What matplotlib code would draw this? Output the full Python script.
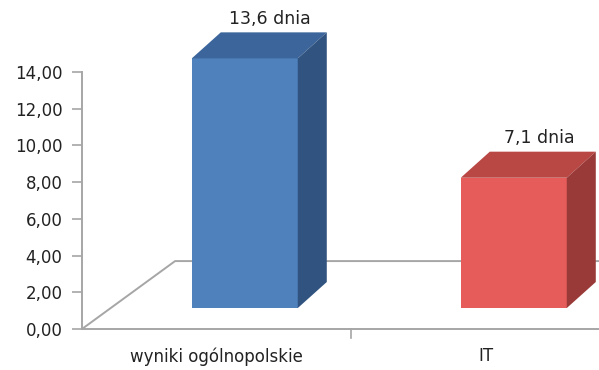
import matplotlib
matplotlib.use("Agg")
import matplotlib.pyplot as plt
from matplotlib.patches import Polygon
from matplotlib.ticker import FuncFormatter

# ===== dane =====
categories = ["wyniki ogólnopolskie", "IT"]
values = [13.6, 7.1]
value_labels = ["13,6 dnia", "7,1 dnia"]
front_colors = ["#4F81BD", "#E65C5A"]
top_colors = ["#3C669B", "#B94744"]
side_colors = ["#30537F", "#9A3A38"]

plt.rcParams["font.family"] = ["DejaVu Sans"]
plt.rcParams["font.size"] = 12

W, H = 599, 370
fig = plt.figure(figsize=(W / 100, H / 100), dpi=100)

# plot area: y axis at x=82px, baseline at y=329px, 14 at y=72px
ax = fig.add_axes([82 / W, 41 / H, (W - 82) / W, 329 / H])
unit_px = 257 / 14
ax.set_ylim(0, 329 / unit_px)
ax.set_xlim(-0.5, -0.5 + (W - 82) / 269)

grid_c = "#A6A6A6"
txt_c = "#222222"

# 3D look parameters (in data units)
shift = 0.105      # bar front shifted right
bar_w = 0.394
lift = 1.14        # front face bottom lifted
dx, dy = 0.108, 1.42
floor_dx, floor_dy = 0.346, 3.7

# floor
ax.plot([-0.5, -0.5 + floor_dx, 2], [0, floor_dy, floor_dy], color=grid_c, lw=1.4, zorder=1)

for i, v in enumerate(values):
    x0 = i + shift - bar_w / 2
    x1 = x0 + bar_w
    b = lift
    t = lift + v
    ax.bar(i + shift, v, width=bar_w, bottom=b, color=front_colors[i], zorder=3, linewidth=0)
    ax.add_patch(Polygon([(x0, t), (x1, t), (x1 + dx, t + dy), (x0 + dx, t + dy)],
                         closed=True, color=top_colors[i], lw=0, zorder=3))
    ax.add_patch(Polygon([(x1, b), (x1 + dx, b + dy), (x1 + dx, t + dy), (x1, t)],
                         closed=True, color=side_colors[i], lw=0, zorder=3))
    ax.text(i + shift + 0.095, t + dy + 0.75, value_labels[i], ha="center", va="center",
            fontsize=12.5, color=txt_c)

for s in ["top", "right"]:
    ax.spines[s].set_visible(False)
ax.spines["left"].set_color(grid_c)
ax.spines["bottom"].set_color(grid_c)
ax.spines["left"].set_linewidth(1.4)
ax.spines["bottom"].set_linewidth(1.4)
ax.spines["left"].set_bounds(0, 14)

ax.set_yticks(range(0, 15, 2))
ax.yaxis.set_major_formatter(FuncFormatter(lambda v, p: f"{v:.2f}".replace(".", ",")))
ax.tick_params(axis="y", length=7, width=1.2, color=grid_c, pad=7, labelsize=12, labelcolor=txt_c)

ax.set_xticks(range(len(categories)))
ax.set_xticklabels(categories)
ax.tick_params(axis="x", length=0, pad=13, labelsize=12, labelcolor=txt_c)
ax.plot([0.5, 0.5], [0, -0.5], color=grid_c, lw=1.2, clip_on=False)

fig.savefig("out.png", dpi=100)
